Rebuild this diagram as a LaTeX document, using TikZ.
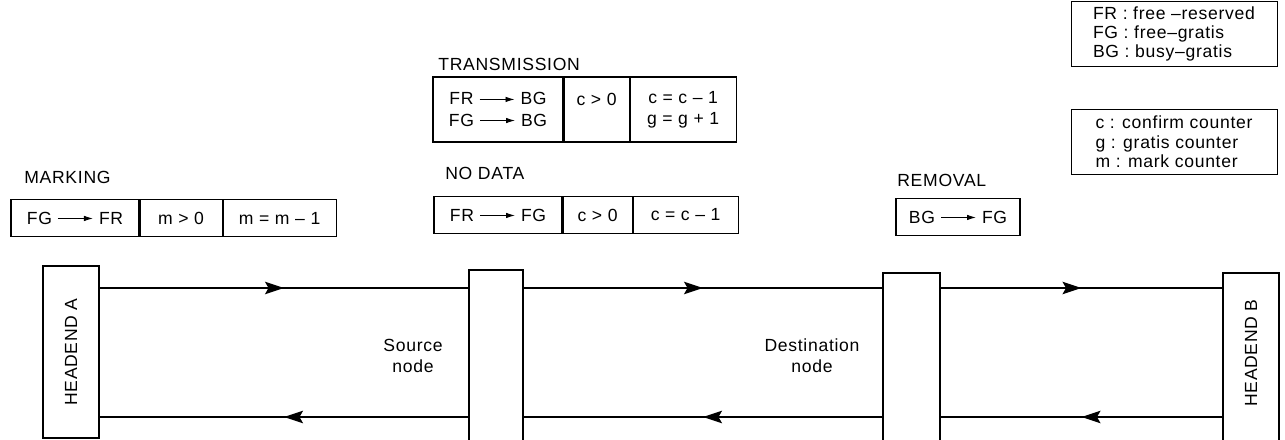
\documentclass[tikz,border=0pt]{standalone}
\usepackage{fontspec}
\setmainfont{Liberation Sans}[LetterSpace=4]
\usetikzlibrary{positioning,arrows.meta,decorations.markings}

\newcommand{\tto}{\tikz[baseline=-0.6ex]\draw[line width=0.5pt,-{Latex[length=1.8mm,width=1.1mm]}] (0,0) -- (7mm,0);}

\begin{document}
\begin{tikzpicture}[x=0.2mm,y=-0.2mm]

\tikzset{
  station/.style={draw, line width=0.7pt, inner sep=0pt},
  cell/.style={draw, line width=0.6pt, minimum height=7.4mm, inner sep=1pt, align=center},
  legend/.style={draw, line width=0.5pt, align=left, minimum width=41.2mm, inner sep=0pt},
  title/.style={anchor=west, inner sep=0pt},
  link/.style={
    line width=0.8pt,
    postaction={decorate},
    decoration={markings, mark=at position 0.5 with {\arrow{Stealth[length=3.8mm,width=2.5mm,inset=0.7mm]}}}
  }
}

  \useasboundingbox (0,0) rectangle (1285,440);

  % Stations
  \node[station, minimum width=11.2mm, minimum height=34.4mm] (hA) at (71,352) {\rotatebox{90}{HEADEND A}};
  \node[station, minimum width=10.8mm, minimum height=36mm] (src) at (496,360) {};
  \node[station, minimum width=11.4mm, minimum height=35.4mm] (dst) at (911.5,361.5) {};
  \node[station, minimum width=11.2mm, minimum height=34.8mm] (hB) at (1251,360) {\rotatebox{90}{\hspace*{2.8mm}HEADEND B}};

  \node[align=center] (srcL) at (413,356) {Source\\node};
  \node[align=center] (dstL) at (812,356) {Destination\\node};

  % Bus lines
  \coordinate (up) at (0,288);
  \coordinate (dn) at (0,417);

  \draw[link] (hA.east |- up) -- (src.west |- up);
  \draw[link] (src.east |- up) -- (dst.west |- up);
  \draw[link] (dst.east |- up) -- (hB.west |- up);

  \draw[link] (hB.west |- dn) -- (dst.east |- dn);
  \draw[link] (dst.west |- dn) -- (src.east |- dn);
  \draw[link] (src.west |- dn) -- (hA.east |- dn);

  % Marking
  \node[title] (mkT) at (24,177) {MARKING};
  \node[cell, minimum width=25.6mm] (mk1) at (75,218) {FG \tto{} FR};
  \node[cell, minimum width=16.4mm, right=0pt of mk1] (mk2) {m > 0};
  \node[cell, minimum width=22.6mm, right=0pt of mk2] (mk3) {m = m -- 1};

  % Transmission
  \node[title] (trT) at (438,64) {TRANSMISSION};
  \node[cell, minimum width=26mm, minimum height=13mm] (tr1) at (498,109.5) {FR \tto{} BG\\FG \tto{} BG};
  \node[cell, minimum width=13mm, minimum height=13mm, right=0pt of tr1] (tr2) {c > 0\\\mbox{}};
  \node[cell, minimum width=21.2mm, minimum height=13mm, right=0pt of tr2] (tr3) {c = c -- 1\\g = g + 1};

  % No data
  \node[title] (ndT) at (445,173) {NO DATA};
  \node[cell, minimum width=25.6mm] (nd1) at (498,215) {FR \tto{} FG};
  \node[cell, minimum width=13.8mm, right=0pt of nd1] (nd2) {c > 0};
  \node[cell, minimum width=21mm, right=0pt of nd2] (nd3) {c = c -- 1};

  % Removal
  \node[title] (rmT) at (897,180) {REMOVAL};
  \node[cell, minimum width=24.8mm] (rm1) at (958,217) {BG \tto{} FG};

  % Legends
  \node[legend, minimum height=13mm] (abbr) at (1174,34)
    {FR : free --reserved\\[-1pt] FG : free--gratis\\[-1pt] BG : busy--gratis};
  \node[legend, minimum height=13mm] (cnt) at (1174,142)
    {c : confirm counter\\[-1pt] g : gratis counter\\[-1pt] m : mark counter};
\end{tikzpicture}
\end{document}
